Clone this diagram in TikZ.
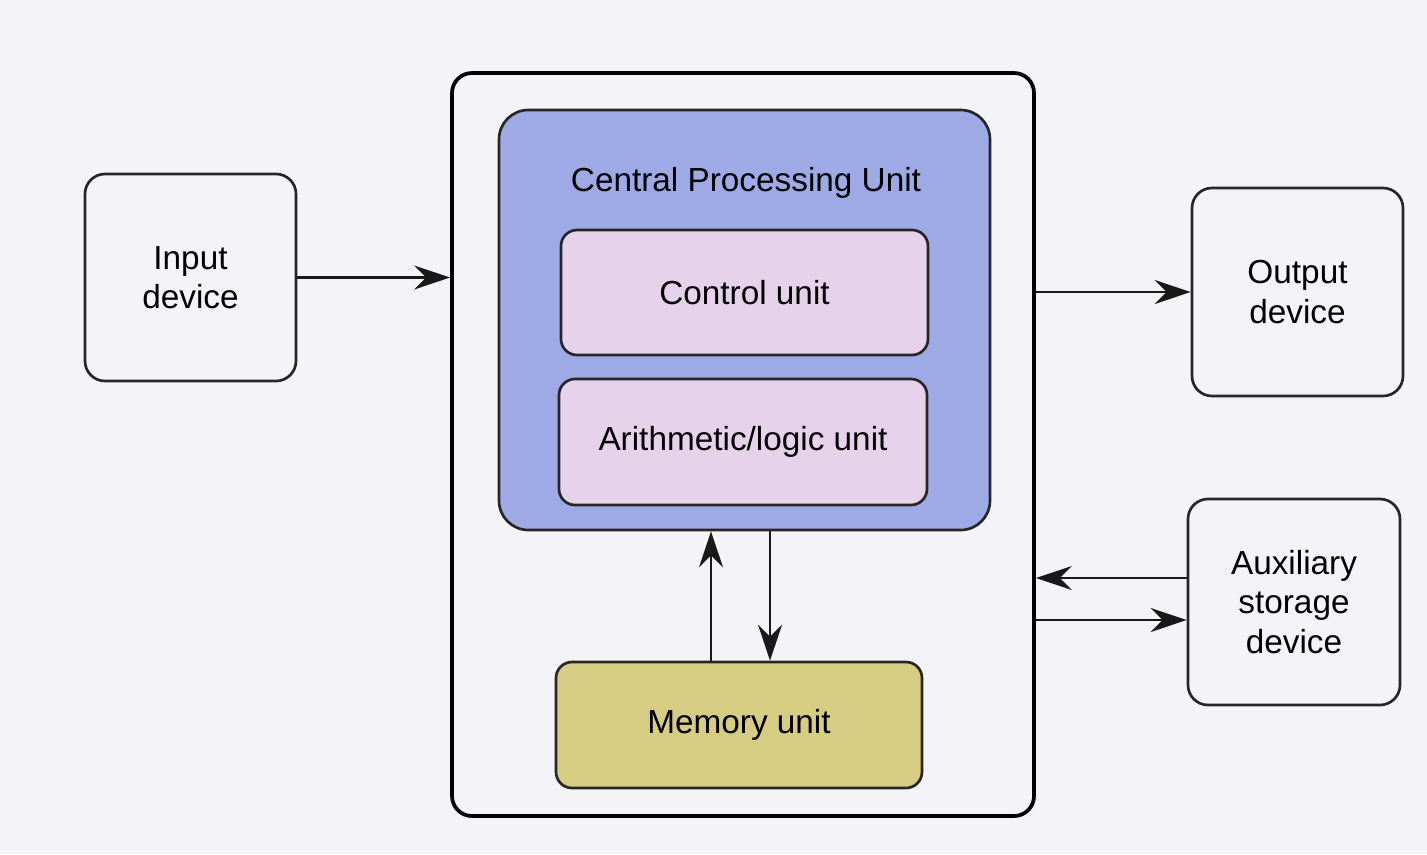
\documentclass[tikz,border=0pt]{standalone}
\usepackage{fontspec}
\setmainfont{Liberation Sans}
\usetikzlibrary{arrows.meta}
\definecolor{bg}{RGB}{244,244,248}
\definecolor{cpublue}{RGB}{158,170,230}
\definecolor{unitpink}{RGB}{230,210,234}
\definecolor{memkhaki}{RGB}{214,204,130}
\begin{document}
\begin{tikzpicture}[x=0.75pt,y=-0.75pt,
  every node/.style={font=\fontsize{25}{29.5}\selectfont, align=center, inner sep=0pt},
  dev/.style={draw=black!85, line width=2pt, rounded corners=15pt, fill=bg},
  unitbox/.style={draw=black!85, line width=2pt, rounded corners=12pt},
  arr/.style={line width=1.8pt, draw=black!90, -{Stealth[length=27pt,width=18pt,inset=9pt]}}]
\fill[bg] (0,0) rectangle (1427,854);
\useasboundingbox (0,0) rectangle (1427,854);
% outer computer box
\node[draw=black, line width=2.8pt, rounded corners=15pt, fill=bg,
      minimum width=436.5pt, minimum height=557.25pt] (outer) at (743,444.5) {};
% CPU
\node[draw=black!85, line width=2pt, rounded corners=22pt, fill=cpublue,
      minimum width=368.25pt, minimum height=315pt] (cpu) at (744.5,320) {};
\node (cputitle) at (746,183) {Central Processing Unit};
\node[unitbox, fill=unitpink, minimum width=275.25pt, minimum height=93.75pt] (ctrl) at (744.5,292.5) {Control unit};
\node[unitbox, fill=unitpink, minimum width=276pt, minimum height=94.5pt] (alu) at (743,442) {Arithmetic/logic unit};
\node[unitbox, fill=memkhaki, minimum width=274.5pt, minimum height=94.5pt] (mem) at (739,725) {Memory unit};
% devices
\node[dev, minimum width=158.25pt, minimum height=155.25pt] (in) at (190.5,277.5) {Input\\device};
\node[dev, minimum width=158.25pt, minimum height=156pt] (out) at (1297.5,292) {Output\\device};
\node[dev, minimum width=159pt, minimum height=154.5pt] (aux) at (1294,602) {Auxiliary\\storage\\device};
% connectors
\draw[arr] (in.east) -- (outer.west |- in.east);
\draw[arr] (outer.east |- out.west) -- (out.west);
\draw[arr] ([yshift=18pt]aux.west) -- ([yshift=18pt]aux.west -| outer.east);
\draw[arr] ([yshift=-13.5pt]aux.west -| outer.east) -- ([yshift=-13.5pt]aux.west);
\draw[arr] ([xshift=-21pt]mem.north) -- ([xshift=-21pt]mem.north |- cpu.south);
\draw[arr] ([xshift=23.25pt]mem.north |- cpu.south) -- ([xshift=23.25pt]mem.north);
\end{tikzpicture}
\end{document}
